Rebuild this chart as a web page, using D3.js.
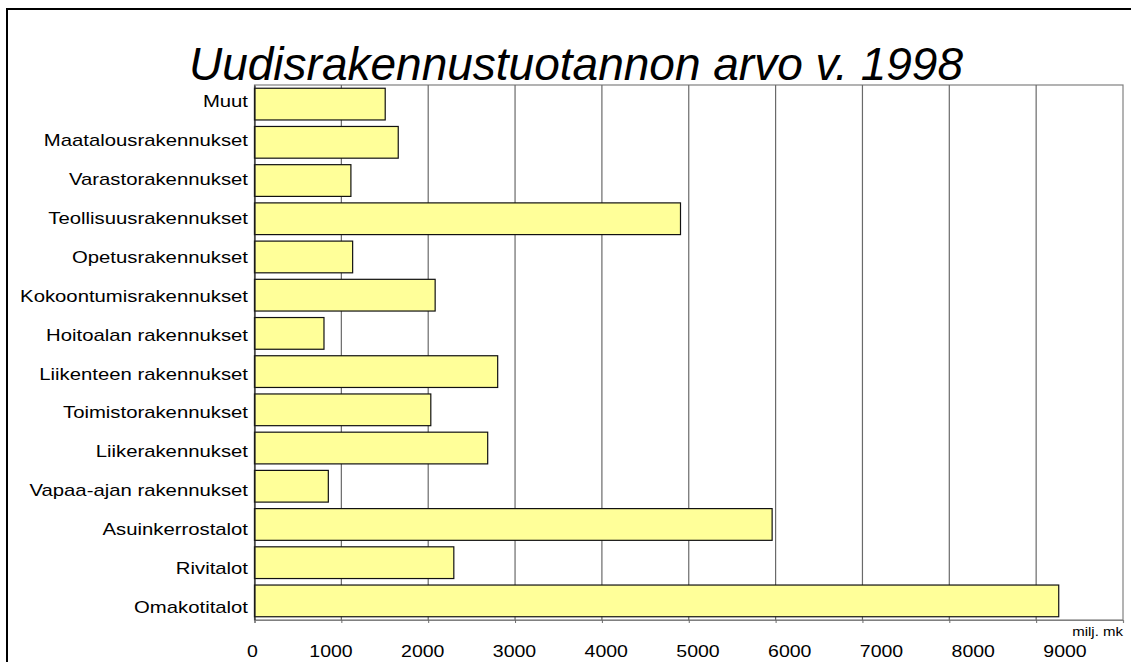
<!DOCTYPE html>
<html>
<head>
<meta charset="utf-8">
<script src="https://cdn.jsdelivr.net/npm/d3@7"></script>
<style>
  body { margin: 0; background: #fff; }
  svg { display: block; font-family: "Liberation Sans", Arial, sans-serif; }
</style>
</head>
<body>
<svg id="chart" width="1131" height="662"></svg>
<script>
  // categories top to bottom, values in milj. mk
  const categories = [
    'Muut', 'Maatalousrakennukset', 'Varastorakennukset', 'Teollisuusrakennukset',
    'Opetusrakennukset', 'Kokoontumisrakennukset', 'Hoitoalan rakennukset',
    'Liikenteen rakennukset', 'Toimistorakennukset', 'Liikerakennukset',
    'Vapaa-ajan rakennukset', 'Asuinkerrostalot', 'Rivitalot', 'Omakotitalot'
  ];
  const values = [1505, 1655, 1110, 4905, 1130, 2080, 800, 2800, 2030, 2685, 850, 5960, 2295, 9260];
  const xTicks = [0, 1000, 2000, 3000, 4000, 5000, 6000, 7000, 8000, 9000];
  const titleText = 'Uudisrakennustuotannon arvo v. 1998';
  const unitText = 'milj. mk';

  (function () {
    const svg = d3.select('#chart');
    const plotLeft = 254.5, plotRight = 1123, plotTop = 85, plotBottom = 620;

    // outer frame (runs off the right and bottom edge)
    svg.append('path')
      .attr('d', 'M7,700 L7,9 L1140,9')
      .attr('fill', 'none')
      .attr('stroke', '#000')
      .attr('stroke-width', 2);

    svg.append('text')
      .attr('x', 576)
      .attr('y', 80)
      .attr('text-anchor', 'middle')
      .attr('font-size', 46)
      .attr('font-style', 'italic')
      .text(titleText);

    const x = d3.scaleLinear().domain([0, 10000]).range([plotLeft, plotRight]);
    const y = d3.scaleBand().domain(categories).range([plotTop, plotBottom])
      .paddingInner(0.17).paddingOuter(0.085);
    // the source lays its labels out a bit wider than the marks
    const yLabel = d3.scaleBand().domain(categories).range([81.5, 627]);
    const xLabel = d3.scaleLinear().domain([0, 1000, 9000]).range([252.5, 331, 1065]);

    // plot frame + gridlines
    svg.append('rect')
      .attr('x', plotLeft).attr('y', plotTop)
      .attr('width', plotRight - plotLeft).attr('height', plotBottom - plotTop)
      .attr('fill', '#fff')
      .attr('stroke', '#808080')
      .attr('stroke-width', 1.2);

    svg.append('g')
      .selectAll('line')
      .data(xTicks.slice(1))
      .join('line')
      .attr('x1', d => x(d)).attr('x2', d => x(d))
      .attr('y1', plotTop).attr('y2', plotBottom)
      .attr('stroke', '#6a6a6a')
      .attr('stroke-width', 1.2);

    // bars
    svg.append('g')
      .selectAll('rect')
      .data(values)
      .join('rect')
      .attr('x', x(0))
      .attr('y', (d, i) => y(categories[i]))
      .attr('width', d => x(d) - x(0))
      .attr('height', y.bandwidth())
      .attr('fill', '#ffff99')
      .attr('stroke', '#111')
      .attr('stroke-width', 1.2);

    // left axis line
    const yAxis = svg.append('g')
      .attr('transform', 'translate(' + plotLeft + ',0)')
      .call(d3.axisLeft(y).tickSize(0).tickFormat(''));
    yAxis.select('.domain').attr('stroke', '#222').attr('stroke-width', 1.2);

    svg.append('g')
      .selectAll('text')
      .data(categories)
      .join('text')
      .attr('transform', d => 'translate(248,' + (yLabel(d) + yLabel.bandwidth() / 2 + 5.8) + ') scale(1.27,1)')
      .attr('text-anchor', 'end')
      .attr('font-size', 16)
      .text(d => d);

    // bottom axis
    const xAxis = svg.append('g')
      .attr('transform', 'translate(0,' + plotBottom + ')')
      .call(d3.axisBottom(x).tickValues(xTicks).tickSize(3).tickFormat(''));
    xAxis.select('.domain').attr('stroke', '#808080').attr('stroke-width', 1.2);
    xAxis.selectAll('line').attr('stroke', '#6a6a6a');

    svg.append('g')
      .selectAll('text')
      .data(xTicks)
      .join('text')
      .attr('transform', d => 'translate(' + xLabel(d) + ',656.5) scale(1.22,1)')
      .attr('text-anchor', 'middle')
      .attr('font-size', 16)
      .text(d => d3.format('d')(d));

    svg.append('text')
      .attr('transform', 'translate(' + plotRight + ',636) scale(1.25,1)')
      .attr('text-anchor', 'end')
      .attr('font-size', 12)
      .text(unitText);
  }());
</script>
</body>
</html>
